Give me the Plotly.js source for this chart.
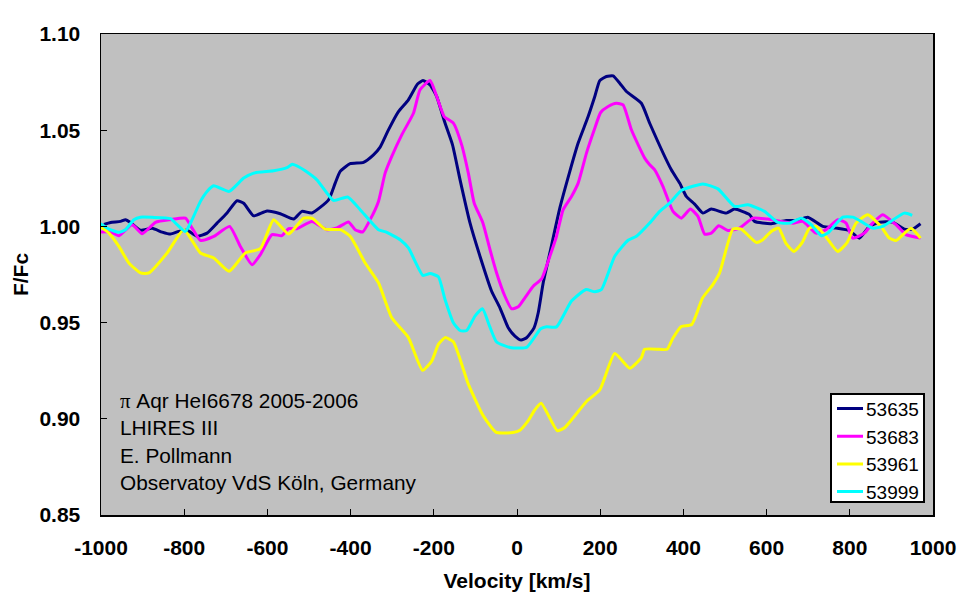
<!DOCTYPE html>
<html><head><meta charset="utf-8">
<script src="https://cdn.plot.ly/plotly-3.0.1.min.js"></script>
<style>html,body{margin:0;padding:0;background:#fff}#c{width:968px;height:605px}</style>
</head><body><div id="c"></div>
<script>
const xTickVals=[-1000,-800,-600,-400,-200,0,200,400,600,800,1000];
const xTickText=["-1000","-800","-600","-400","-200","0","200","400","600","800","1000"];
const yTickVals=[0.85,0.90,0.95,1.00,1.05,1.10];
const yTickText=["0.85","0.90","0.95","1.00","1.05","1.10"];
const names=["53635","53683","53961","53999"];

const v53635=[-993,-977,-953,-941,-929,-905,-877,-853,-833,-813,-793,-769,-745,-721,-697,-673,-657,-633,-601,-569,-537,-517,-493,-453,-437,-425,-401,-369,-345,-329,-309,-285,-261,-239,-226,-209,-193,-173,-155,-137,-113,-89,-61,-41,-21,-5,10,23,41,51,63,79,103,127,147,171,187,199,215,231,247,263,299,319,371,391,407,427,447,467,503,523,559,571,611,647,671,699,735,767,799,823,847,871,903,931,951,970];
const f53635=[1.001,1.002,1.0026,1.0035,1.002,0.998,0.999,0.997,0.996,0.9974,0.998,0.9948,0.9965,1.0017,1.007,1.0133,1.012,1.0055,1.008,1.0066,1.0038,1.0078,1.007,1.0138,1.0225,1.0286,1.0326,1.0333,1.0372,1.0412,1.0502,1.0597,1.0658,1.074,1.0758,1.0735,1.0675,1.0537,1.0424,1.0243,1.0018,0.9845,0.9663,0.9577,0.9473,0.943,0.9409,0.9421,0.9473,0.9551,0.9707,0.9862,1.0096,1.0286,1.0433,1.0571,1.0675,1.0758,1.0779,1.0782,1.0744,1.0701,1.064,1.0536,1.0294,1.0225,1.0156,1.0116,1.0069,1.009,1.0069,1.009,1.0061,1.0026,1.0014,1.0031,1.0031,1.0048,1.0,0.9991,0.9978,0.9939,1.0,1.0022,1.0022,0.9986,0.9986,1.0014];

const v53683=[-1001,-977,-957,-925,-901,-869,-833,-797,-781,-761,-729,-691,-665,-637,-617,-589,-565,-549,-529,-493,-457,-433,-405,-389,-371,-353,-333,-317,-301,-277,-249,-233,-209,-193,-175,-153,-133,-117,-103,-82,-65,-49,-29,-13,3,19,39,59,79,95,111,131,147,167,187,201,219,239,255,275,295,307,319,331,351,375,395,417,435,451,467,485,507,535,567,603,663,687,719,743,771,791,807,835,855,879,911,935,970];
const f53683=[0.9971,0.9971,0.9952,1.0009,0.9962,1.0021,1.0035,1.0043,0.9991,0.9927,0.9948,1.0,0.9896,0.9801,0.9853,0.9957,0.9952,0.9988,0.9988,1.0026,0.9983,0.9992,1.0023,0.9983,0.9971,1.0035,1.013,1.0277,1.0364,1.0476,1.0588,1.071,1.0758,1.0675,1.0571,1.0537,1.0424,1.0277,1.0122,1.0018,0.988,0.9758,0.9637,0.9572,0.9582,0.9629,0.9689,0.9727,0.9845,0.9949,1.0087,1.0156,1.0225,1.0381,1.051,1.0592,1.0623,1.064,1.0632,1.0502,1.0407,1.0355,1.032,1.0294,1.0207,1.0078,1.0043,1.009,1.0052,0.996,0.9965,1.0003,0.9979,0.9991,1.0043,1.0038,1.0017,1.0026,0.9965,0.9983,1.0035,1.0017,0.9939,0.9965,1.0017,1.0061,1.0009,0.9957,0.9939];

const v53961=[-1001,-981,-957,-933,-905,-885,-841,-801,-761,-729,-692,-653,-617,-585,-549,-513,-493,-461,-425,-401,-365,-333,-301,-261,-227,-205,-189,-173,-153,-117,-81,-50,-10,7,27,43,58,97,115,167,199,235,271,299,307,343,361,375,395,420,446,470,487,519,539,575,591,611,629,647,666,685,703,719,739,771,793,815,843,875,895,911,947,970];
const f53961=[0.9997,0.9965,0.9896,0.981,0.9758,0.9758,0.9862,0.9983,0.9862,0.9836,0.9767,0.9862,0.9884,1.0035,0.996,1.0043,1.0043,0.9986,0.9983,0.9949,0.981,0.9707,0.9525,0.9422,0.9252,0.93,0.9387,0.9422,0.94,0.918,0.9015,0.8929,0.8929,0.8941,0.899,0.9047,0.9081,0.8938,0.8955,0.909,0.915,0.9339,0.9263,0.9318,0.9361,0.9361,0.9361,0.942,0.948,0.949,0.9628,0.9695,0.9758,0.9986,0.9986,0.9917,0.9931,0.9974,0.9991,0.991,0.987,0.9914,0.9991,1.0,0.9957,0.987,0.9914,1.0017,1.0061,1.0,0.9939,0.9927,0.9991,0.9939];

const v53999=[-1001,-981,-957,-941,-921,-905,-877,-833,-817,-797,-781,-761,-745,-729,-692,-657,-633,-585,-553,-540,-525,-510,-481,-441,-407,-377,-333,-313,-281,-261,-226,-209,-189,-173,-153,-137,-121,-101,-83,-66,-49,-17,23,57,71,95,131,166,187,203,235,267,287,319,343,367,395,447,483,523,555,595,627,655,683,707,731,747,783,807,827,855,879,931,950];
const f53999=[1.0014,0.9986,0.9969,0.9983,1.0035,1.0048,1.0047,1.004,1.0009,0.9974,1.0035,1.013,1.0182,1.0211,1.0182,1.0251,1.0277,1.0289,1.0305,1.0323,1.031,1.029,1.0242,1.0135,1.0153,1.0087,0.9983,0.9969,0.9931,0.9888,0.9745,0.9755,0.9738,0.962,0.9499,0.9459,0.9459,0.9534,0.9572,0.9482,0.9399,0.9371,0.9371,0.9468,0.9478,0.9478,0.9612,0.9672,0.966,0.9672,0.9845,0.9928,0.9949,1.0018,1.0078,1.0121,1.0187,1.0221,1.0195,1.0104,1.0112,1.0078,1.0021,1.0017,1.0043,1.0009,0.9952,0.9965,1.0048,1.0048,1.0026,0.9991,1.0,1.0069,1.0057];

const noteLines=['<span style="font-family:Liberation Serif">π</span> Aqr HeI6678 2005-2006','LHIRES III','E. Pollmann','Observatoy VdS Köln, Germany'];
const noteY=[0.9093,0.8953,0.881,0.8668];
const colors=["#000080","#ff00ff","#ffff00","#00ffff"];
const xs=[v53635,v53683,v53961,v53999], ys=[f53635,f53683,f53961,f53999];
const font="Liberation Sans, Arial, sans-serif";

const traces=names.map((n,i)=>({x:xs[i],y:ys[i],name:n,type:"scatter",mode:"lines",
  line:{color:colors[i],width:3,shape:"spline",smoothing:0.5}}));

const layout={
  width:968,height:605,margin:{l:101,r:35,t:34,b:89.5},
  paper_bgcolor:"#fff",plot_bgcolor:"#c0c0c0",font:{family:font,color:"#000"},
  xaxis:{range:[-1000,1000],tickmode:"array",tickvals:xTickVals,ticktext:xTickText,ticks:"inside",ticklen:6,tickwidth:1,tickcolor:"#000",
    showgrid:false,zeroline:false,showline:true,linecolor:"#000",linewidth:1.5,mirror:true,
    tickfont:{family:font,size:21,weight:700},ticklabelstandoff:13,
    title:{text:"<b>Velocity [km/s]</b>",font:{family:font,size:21},standoff:15}},
  yaxis:{range:[0.85,1.10],tickmode:"array",tickvals:yTickVals,ticktext:yTickText,ticks:"inside",ticklen:6,tickwidth:1,tickcolor:"#000",
    showgrid:false,zeroline:false,showline:true,linecolor:"#000",linewidth:1.5,mirror:true,
    tickfont:{family:font,size:21,weight:700},ticklabelstandoff:15,
    title:{text:"<b>F/Fc</b>",font:{family:font,size:21},standoff:5}},
  legend:{x:0.869,y:0.2648,xanchor:"left",yanchor:"top",bgcolor:"#fff",bordercolor:"#000",borderwidth:2,
    font:{family:font,size:19,color:"#000"},itemwidth:30,tracegroupgap:0},
  annotations:noteLines.map((t,i)=>({text:t,xref:"paper",yref:"y",x:17/832,y:noteY[i],xanchor:"left",yanchor:"middle",showarrow:false,
    font:{family:font,size:20.8,color:"#000"}}))
};
Plotly.newPlot("c",traces,layout,{displayModeBar:false,staticPlot:true}).then(()=>{
  const bg=document.querySelector(".legend rect.bg");
  if(bg){bg.setAttribute("x","6.5");bg.setAttribute("y","6");bg.setAttribute("width","93.5");bg.setAttribute("height","108");}
  document.querySelectorAll(".legend .legendlines path").forEach(p=>p.setAttribute("d","M11,0h26"));
});
</script></body></html>
